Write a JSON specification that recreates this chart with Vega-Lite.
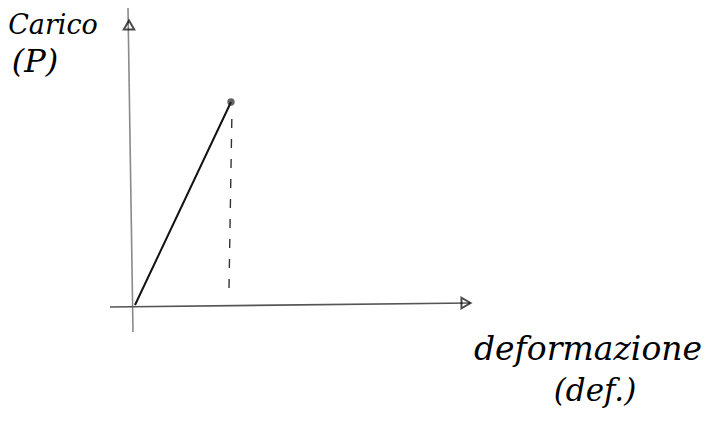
{
  "$schema": "https://vega.github.io/schema/vega-lite/v6.json",
  "width": 710,
  "height": 421,
  "autosize": {"type": "fit", "contains": "padding"},
  "padding": 0,
  "background": "white",
  "config": {"view": {"stroke": null}},
  "datasets": {
    "yaxis": [{"def": -5, "load": 298}, {"def": 0, "load": -26}],
    "xaxis": [{"def": -23, "load": -1}, {"def": 337, "load": 3}],
    "load_path": [{"def": 2, "load": 1}, {"def": 98, "load": 204}],
    "drop": [{"def": 99, "load": 198}, {"def": 96, "load": 18}],
    "peak": [{"def": 98, "load": 204}],
    "heads": [
      {"def": -4, "load": 281, "dir": "up"},
      {"def": 333, "load": 3, "dir": "right"}
    ],
    "labels": [
      {"def": -80, "load": 280, "text": "Carico", "size": 27},
      {"def": -98, "load": 244, "text": "(P)", "size": 32},
      {"def": 455, "load": -44, "text": "deformazione", "size": 33},
      {"def": 462, "load": -86, "text": "(def.)", "size": 31}
    ]
  },
  "encoding": {
    "x": {"field": "def", "type": "quantitative", "scale": {"domain": [-133, 577], "nice": false, "zero": false}, "axis": null},
    "y": {"field": "load", "type": "quantitative", "scale": {"domain": [-115, 306], "nice": false, "zero": false}, "axis": null}
  },
  "layer": [
    {
      "data": {"name": "yaxis"},
      "mark": {"type": "line", "color": "#8a8a8a", "strokeWidth": 1.6}
    },
    {
      "data": {"name": "xaxis"},
      "mark": {"type": "line", "color": "#555555", "strokeWidth": 1.6}
    },
    {
      "data": {"name": "load_path"},
      "mark": {"type": "line", "color": "#111111", "strokeWidth": 2}
    },
    {
      "data": {"name": "drop"},
      "mark": {"type": "line", "color": "#333333", "strokeWidth": 1.4, "strokeDash": [9, 11]}
    },
    {
      "data": {"name": "peak"},
      "mark": {"type": "point", "filled": true, "color": "#222222", "size": 55, "shape": "circle"}
    },
    {
      "data": {"name": "heads"},
      "mark": {"type": "point", "filled": false, "color": "#000000", "strokeWidth": 2, "size": 110},
      "encoding": {
        "shape": {"field": "dir", "type": "nominal", "scale": {"domain": ["up", "right"], "range": ["triangle-up", "triangle-right"]}, "legend": null}
      }
    },
    {
      "data": {"name": "labels"},
      "mark": {"type": "text", "font": "DejaVu Serif", "fontStyle": "italic", "color": "#000000", "align": "center", "baseline": "middle"},
      "encoding": {
        "text": {"field": "text"},
        "size": {"field": "size", "type": "quantitative", "scale": null}
      }
    }
  ]
}
